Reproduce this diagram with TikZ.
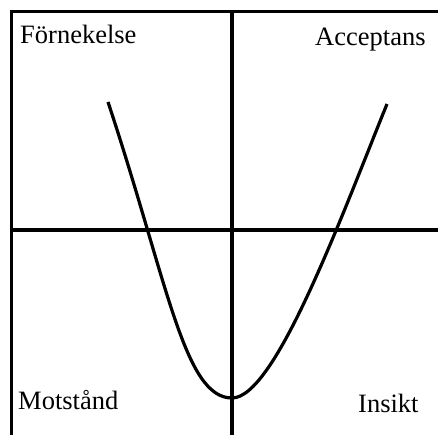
\documentclass[tikz,border=0pt]{standalone}
\usepackage{fontspec}
\setmainfont{Liberation Serif}
\begin{document}
\begin{tikzpicture}[x=1pt,y=-1pt,
  axis/.style={line width=3.5pt},
  curve/.style={line width=3.2pt},
  lbl/.style={anchor=base west,inner sep=0pt,font=\fontsize{26.5}{31}\selectfont}]
\useasboundingbox (0,0) rectangle (438,435);
\coordinate (tl) at (9.5,11.5);
\coordinate (tr) at (438,11.5);
\coordinate (lt) at (11.3,9.8);
\coordinate (lb) at (11.3,435);
\coordinate (hl) at (11.3,230);
\coordinate (hr) at (438,230);
\coordinate (vt) at (232,11.5);
\coordinate (vb) at (232,435);
\draw[axis] (tl) -- (tr);
\draw[axis] (lt) -- (lb);
\draw[axis] (hl) -- (hr);
\draw[axis] (vt) -- (vb);
\coordinate (cs) at (108,102);
\coordinate (cv) at (232,398);
\coordinate (ce) at (387,104);
\draw[curve] (cs) .. controls (168,283) and (184,398) .. (cv)
  .. controls (275,398) and (340,220) .. (ce);
\node[lbl] (forn) at (20,44) {Förnekelse};
\node[lbl] (acc) at (315,46) {Acceptans};
\node[lbl] (mot) at (18,409) {Motstånd};
\node[lbl] (ins) at (358,412) {Insikt};
\end{tikzpicture}
\end{document}
